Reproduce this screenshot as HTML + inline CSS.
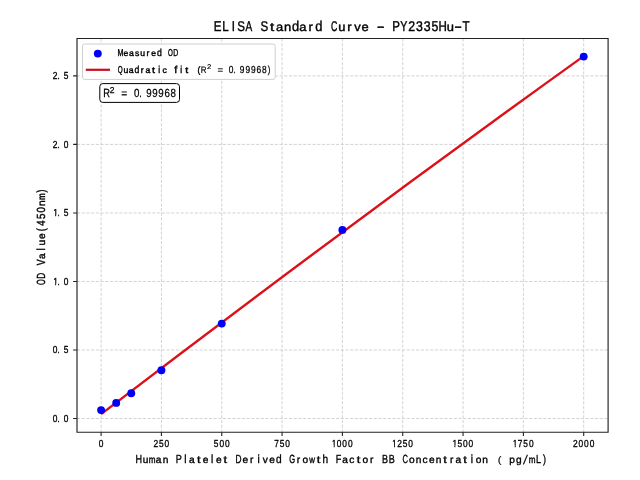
<!DOCTYPE html>
<html><head><meta charset="utf-8"><style>
html,body{margin:0;padding:0;background:#fff;width:640px;height:480px;overflow:hidden;font-family:"Liberation Sans",sans-serif}
svg{display:block;will-change:transform}
text{text-rendering:geometricPrecision}
</style></head><body>
<svg width="640" height="480" viewBox="0 0 640 480"><defs><style>text{vector-effect:non-scaling-stroke;font-family:'Liberation Sans',sans-serif}</style><clipPath id="c0"><rect x="-1.523" y="-7.700" width="4.571" height="6.210"/><rect x="0.266" y="-1.515" width="1.048" height="3.515"/></clipPath></defs>
<rect width="640" height="480" fill="#fff"/>
<path d="M101.10 38.50V432.20M161.42 38.50V432.20M221.75 38.50V432.20M282.07 38.50V432.20M342.40 38.50V432.20M402.73 38.50V432.20M463.05 38.50V432.20M523.38 38.50V432.20M583.70 38.50V432.20M77.00 418.50H608.10M77.00 349.98H608.10M77.00 281.46H608.10M77.00 212.94H608.10M77.00 144.42H608.10M77.00 75.90H608.10" stroke="#cecece" stroke-width="0.9" stroke-dasharray="3.1 1.61" fill="none"/>
<path d="M101.10 414.08Q342.40 229.40 583.70 56.13" stroke="#dc1018" stroke-width="2.4" fill="none"/>
<circle cx="101.10" cy="410.10" r="3.95" fill="#0000f5"/>
<circle cx="116.18" cy="402.90" r="3.95" fill="#0000f5"/>
<circle cx="131.26" cy="393.30" r="3.95" fill="#0000f5"/>
<circle cx="161.42" cy="370.20" r="3.95" fill="#0000f5"/>
<circle cx="221.75" cy="323.60" r="3.95" fill="#0000f5"/>
<circle cx="342.40" cy="229.90" r="3.95" fill="#0000f5"/>
<circle cx="583.70" cy="56.60" r="3.95" fill="#0000f5"/>
<path d="M77.0 38.5H608.1V432.2H77.0Z" stroke="#222" stroke-width="1.15" fill="none"/>
<path d="M101.10 432.20v3.9M161.42 432.20v3.9M221.75 432.20v3.9M282.07 432.20v3.9M342.40 432.20v3.9M402.73 432.20v3.9M463.05 432.20v3.9M523.38 432.20v3.9M583.70 432.20v3.9M77.00 418.50h-3.9M77.00 349.98h-3.9M77.00 281.46h-3.9M77.00 212.94h-3.9M77.00 144.42h-3.9M77.00 75.90h-3.9" stroke="#222" stroke-width="1.1" fill="none"/>
<g fill="#000" stroke="#000" stroke-width="0.32"><text transform="translate(101.10,447.00) scale(0.8239,1)" x="-2.83" font-size="10.175">0</text></g>
<g fill="#000" stroke="#000" stroke-width="0.32"><text transform="translate(155.83,447.00) scale(0.8239,1)" x="-2.83" font-size="10.175">2</text><text transform="translate(161.38,447.00) scale(0.8239,1)" x="-2.82" font-size="10.175">5</text><text transform="translate(166.93,447.00) scale(0.8239,1)" x="-2.83" font-size="10.175">0</text></g>
<g fill="#000" stroke="#000" stroke-width="0.32"><text transform="translate(216.19,447.00) scale(0.8239,1)" x="-2.82" font-size="10.175">5</text><text transform="translate(221.74,447.00) scale(0.8239,1)" x="-2.83" font-size="10.175">0</text><text transform="translate(227.29,447.00) scale(0.8239,1)" x="-2.83" font-size="10.175">0</text></g>
<g fill="#000" stroke="#000" stroke-width="0.32"><text transform="translate(276.48,447.00) scale(0.8239,1)" x="-2.83" font-size="10.175">7</text><text transform="translate(282.03,447.00) scale(0.8239,1)" x="-2.82" font-size="10.175">5</text><text transform="translate(287.58,447.00) scale(0.8239,1)" x="-2.83" font-size="10.175">0</text></g>
<g fill="#000" stroke="#000" stroke-width="0.32"><text transform="translate(333.58,447.00) scale(0.8239,1)" x="-2.22" font-size="10.175" clip-path="url(#c0)">1</text><text transform="translate(339.13,447.00) scale(0.8239,1)" x="-2.83" font-size="10.175">0</text><text transform="translate(344.68,447.00) scale(0.8239,1)" x="-2.83" font-size="10.175">0</text><text transform="translate(350.23,447.00) scale(0.8239,1)" x="-2.83" font-size="10.175">0</text></g>
<g fill="#000" stroke="#000" stroke-width="0.32"><text transform="translate(393.91,447.00) scale(0.8239,1)" x="-2.22" font-size="10.175" clip-path="url(#c0)">1</text><text transform="translate(399.46,447.00) scale(0.8239,1)" x="-2.83" font-size="10.175">2</text><text transform="translate(405.01,447.00) scale(0.8239,1)" x="-2.82" font-size="10.175">5</text><text transform="translate(410.56,447.00) scale(0.8239,1)" x="-2.83" font-size="10.175">0</text></g>
<g fill="#000" stroke="#000" stroke-width="0.32"><text transform="translate(454.23,447.00) scale(0.8239,1)" x="-2.22" font-size="10.175" clip-path="url(#c0)">1</text><text transform="translate(459.78,447.00) scale(0.8239,1)" x="-2.82" font-size="10.175">5</text><text transform="translate(465.33,447.00) scale(0.8239,1)" x="-2.83" font-size="10.175">0</text><text transform="translate(470.88,447.00) scale(0.8239,1)" x="-2.83" font-size="10.175">0</text></g>
<g fill="#000" stroke="#000" stroke-width="0.32"><text transform="translate(514.56,447.00) scale(0.8239,1)" x="-2.22" font-size="10.175" clip-path="url(#c0)">1</text><text transform="translate(520.11,447.00) scale(0.8239,1)" x="-2.83" font-size="10.175">7</text><text transform="translate(525.66,447.00) scale(0.8239,1)" x="-2.82" font-size="10.175">5</text><text transform="translate(531.21,447.00) scale(0.8239,1)" x="-2.83" font-size="10.175">0</text></g>
<g fill="#000" stroke="#000" stroke-width="0.32"><text transform="translate(575.33,447.00) scale(0.8239,1)" x="-2.83" font-size="10.175">2</text><text transform="translate(580.88,447.00) scale(0.8239,1)" x="-2.83" font-size="10.175">0</text><text transform="translate(586.43,447.00) scale(0.8239,1)" x="-2.83" font-size="10.175">0</text><text transform="translate(591.98,447.00) scale(0.8239,1)" x="-2.83" font-size="10.175">0</text></g>
<g fill="#000" stroke="#000" stroke-width="0.34"><text transform="translate(55.00,422.00) scale(0.8239,1)" x="-2.83" font-size="10.175">0</text><text transform="translate(58.55,422.00) scale(0.7700,1)" x="-1.41" font-size="10.175">.</text><text transform="translate(66.10,422.00) scale(0.8239,1)" x="-2.83" font-size="10.175">0</text></g>
<g fill="#000" stroke="#000" stroke-width="0.34"><text transform="translate(55.01,353.48) scale(0.8239,1)" x="-2.83" font-size="10.175">0</text><text transform="translate(58.56,353.48) scale(0.7700,1)" x="-1.41" font-size="10.175">.</text><text transform="translate(66.11,353.48) scale(0.8239,1)" x="-2.82" font-size="10.175">5</text></g>
<g fill="#000" stroke="#000" stroke-width="0.34"><text transform="translate(55.00,284.96) scale(0.8239,1)" x="-2.22" font-size="10.175" clip-path="url(#c0)">1</text><text transform="translate(58.55,284.96) scale(0.7700,1)" x="-1.41" font-size="10.175">.</text><text transform="translate(66.10,284.96) scale(0.8239,1)" x="-2.83" font-size="10.175">0</text></g>
<g fill="#000" stroke="#000" stroke-width="0.34"><text transform="translate(55.01,216.44) scale(0.8239,1)" x="-2.22" font-size="10.175" clip-path="url(#c0)">1</text><text transform="translate(58.56,216.44) scale(0.7700,1)" x="-1.41" font-size="10.175">.</text><text transform="translate(66.11,216.44) scale(0.8239,1)" x="-2.82" font-size="10.175">5</text></g>
<g fill="#000" stroke="#000" stroke-width="0.34"><text transform="translate(55.00,147.92) scale(0.8239,1)" x="-2.83" font-size="10.175">2</text><text transform="translate(58.55,147.92) scale(0.7700,1)" x="-1.41" font-size="10.175">.</text><text transform="translate(66.10,147.92) scale(0.8239,1)" x="-2.83" font-size="10.175">0</text></g>
<g fill="#000" stroke="#000" stroke-width="0.34"><text transform="translate(55.01,79.40) scale(0.8239,1)" x="-2.83" font-size="10.175">2</text><text transform="translate(58.56,79.40) scale(0.7700,1)" x="-1.41" font-size="10.175">.</text><text transform="translate(66.11,79.40) scale(0.8239,1)" x="-2.82" font-size="10.175">5</text></g>
<g fill="#000" stroke="#000" stroke-width="0.4"><text transform="translate(217.93,31.30) scale(0.8200,1)" x="-4.98" font-size="14.099">E</text><text transform="translate(225.68,31.30) scale(0.8200,1)" x="-4.26" font-size="14.099">L</text><text transform="translate(233.43,31.30) scale(0.8200,1)" x="-1.96" font-size="14.099">I</text><text transform="translate(241.18,31.30) scale(0.8200,1)" x="-4.70" font-size="14.099">S</text><text transform="translate(248.93,31.30) scale(0.7129,1)" x="-4.70" font-size="14.099">A</text><text transform="translate(264.43,31.30) scale(0.8200,1)" x="-4.70" font-size="14.099">S</text><text transform="translate(272.18,31.30) scale(1.2514,1)" x="-1.73" font-size="12.125">t</text><text transform="translate(279.93,31.30) scale(1.0679,1)" x="-3.63" font-size="12.125">a</text><text transform="translate(287.68,31.30) scale(1.0679,1)" x="-3.38" font-size="12.125">n</text><text transform="translate(295.43,31.30) scale(0.9184,1)" x="-3.76" font-size="14.099">d</text><text transform="translate(303.18,31.30) scale(1.0679,1)" x="-3.63" font-size="12.125">a</text><text transform="translate(310.93,31.30) scale(1.0679,1)" x="-2.32" font-size="12.125">r</text><text transform="translate(318.68,31.30) scale(0.9184,1)" x="-3.76" font-size="14.099">d</text><text transform="translate(334.18,31.30) scale(0.6249,1)" x="-5.18" font-size="14.099">C</text><text transform="translate(341.93,31.30) scale(1.0679,1)" x="-3.36" font-size="12.125">u</text><text transform="translate(349.68,31.30) scale(1.0679,1)" x="-2.32" font-size="12.125">r</text><text transform="translate(357.43,31.30) scale(1.0679,1)" x="-3.03" font-size="12.125">v</text><text transform="translate(365.18,31.30) scale(1.0679,1)" x="-3.36" font-size="12.125">e</text><text transform="translate(380.68,31.30) scale(1.6661,1)" x="-2.35" font-size="14.099">-</text><text transform="translate(396.18,31.30) scale(0.8200,1)" x="-4.91" font-size="14.099">P</text><text transform="translate(403.93,31.30) scale(0.7587,1)" x="-4.70" font-size="14.099">Y</text><text transform="translate(411.68,31.30) scale(0.8774,1)" x="-3.92" font-size="14.099">2</text><text transform="translate(419.43,31.30) scale(0.8774,1)" x="-3.88" font-size="14.099">3</text><text transform="translate(427.18,31.30) scale(0.8774,1)" x="-3.88" font-size="14.099">3</text><text transform="translate(434.93,31.30) scale(0.8774,1)" x="-3.91" font-size="14.099">5</text><text transform="translate(442.68,31.30) scale(0.8200,1)" x="-5.09" font-size="14.099">H</text><text transform="translate(450.43,31.30) scale(1.0679,1)" x="-3.36" font-size="12.125">u</text><text transform="translate(458.18,31.30) scale(1.6661,1)" x="-2.35" font-size="14.099">-</text><text transform="translate(465.93,31.30) scale(0.8200,1)" x="-4.30" font-size="14.099">T</text></g>
<g fill="#000" stroke="#000" stroke-width="0.35"><text transform="translate(138.83,463.00) scale(0.7700,1)" x="-4.25" font-size="11.773">H</text><text transform="translate(145.49,463.00) scale(1.0028,1)" x="-2.81" font-size="10.125">u</text><text transform="translate(152.15,463.00) scale(0.8073,1)" x="-4.22" font-size="10.125">m</text><text transform="translate(158.81,463.00) scale(1.0028,1)" x="-3.03" font-size="10.125">a</text><text transform="translate(165.47,463.00) scale(1.0028,1)" x="-2.82" font-size="10.125">n</text><text transform="translate(178.79,463.00) scale(0.7700,1)" x="-4.10" font-size="11.773">P</text><text transform="translate(185.45,463.00) scale(0.8624,1)" x="-1.31" font-size="11.773">l</text><text transform="translate(192.11,463.00) scale(1.0028,1)" x="-3.03" font-size="10.125">a</text><text transform="translate(198.77,463.00) scale(1.2879,1)" x="-1.45" font-size="10.125">t</text><text transform="translate(205.43,463.00) scale(1.0028,1)" x="-2.81" font-size="10.125">e</text><text transform="translate(212.09,463.00) scale(0.8624,1)" x="-1.31" font-size="11.773">l</text><text transform="translate(218.75,463.00) scale(1.0028,1)" x="-2.81" font-size="10.125">e</text><text transform="translate(225.41,463.00) scale(1.2879,1)" x="-1.45" font-size="10.125">t</text><text transform="translate(238.73,463.00) scale(0.7068,1)" x="-4.45" font-size="11.773">D</text><text transform="translate(245.39,463.00) scale(1.0028,1)" x="-2.81" font-size="10.125">e</text><text transform="translate(252.05,463.00) scale(1.0028,1)" x="-1.94" font-size="10.125">r</text><text transform="translate(258.71,463.00) scale(0.8624,1)" x="-1.30" font-size="11.773">i</text><text transform="translate(265.37,463.00) scale(1.0028,1)" x="-2.53" font-size="10.125">v</text><text transform="translate(272.03,463.00) scale(1.0028,1)" x="-2.81" font-size="10.125">e</text><text transform="translate(278.69,463.00) scale(0.8624,1)" x="-3.14" font-size="11.773">d</text><text transform="translate(292.01,463.00) scale(0.6412,1)" x="-4.44" font-size="11.773">G</text><text transform="translate(298.67,463.00) scale(1.0028,1)" x="-1.94" font-size="10.125">r</text><text transform="translate(305.33,463.00) scale(1.0028,1)" x="-2.82" font-size="10.125">o</text><text transform="translate(311.99,463.00) scale(0.7791,1)" x="-3.66" font-size="10.125">w</text><text transform="translate(318.65,463.00) scale(1.2879,1)" x="-1.45" font-size="10.125">t</text><text transform="translate(325.31,463.00) scale(0.8624,1)" x="-3.30" font-size="11.773">h</text><text transform="translate(338.63,463.00) scale(0.7700,1)" x="-3.84" font-size="11.773">F</text><text transform="translate(345.29,463.00) scale(1.0028,1)" x="-3.03" font-size="10.125">a</text><text transform="translate(351.95,463.00) scale(1.0028,1)" x="-2.61" font-size="10.125">c</text><text transform="translate(358.61,463.00) scale(1.2879,1)" x="-1.45" font-size="10.125">t</text><text transform="translate(365.27,463.00) scale(1.0028,1)" x="-2.82" font-size="10.125">o</text><text transform="translate(371.93,463.00) scale(1.0028,1)" x="-1.94" font-size="10.125">r</text><text transform="translate(385.25,463.00) scale(0.7700,1)" x="-4.10" font-size="11.773">B</text><text transform="translate(391.91,463.00) scale(0.7700,1)" x="-4.10" font-size="11.773">B</text><text transform="translate(405.23,463.00) scale(0.6431,1)" x="-4.33" font-size="11.773">C</text><text transform="translate(411.89,463.00) scale(1.0028,1)" x="-2.82" font-size="10.125">o</text><text transform="translate(418.55,463.00) scale(1.0028,1)" x="-2.82" font-size="10.125">n</text><text transform="translate(425.21,463.00) scale(1.0028,1)" x="-2.61" font-size="10.125">c</text><text transform="translate(431.87,463.00) scale(1.0028,1)" x="-2.81" font-size="10.125">e</text><text transform="translate(438.53,463.00) scale(1.0028,1)" x="-2.82" font-size="10.125">n</text><text transform="translate(445.19,463.00) scale(1.2879,1)" x="-1.45" font-size="10.125">t</text><text transform="translate(451.85,463.00) scale(1.0028,1)" x="-1.94" font-size="10.125">r</text><text transform="translate(458.51,463.00) scale(1.0028,1)" x="-3.03" font-size="10.125">a</text><text transform="translate(465.17,463.00) scale(1.2879,1)" x="-1.45" font-size="10.125">t</text><text transform="translate(471.83,463.00) scale(0.8624,1)" x="-1.30" font-size="11.773">i</text><text transform="translate(478.49,463.00) scale(1.0028,1)" x="-2.82" font-size="10.125">o</text><text transform="translate(485.15,463.00) scale(1.0028,1)" x="-2.82" font-size="10.125">n</text></g>
<text transform="translate(497.70,463.00) scale(1.1713,1)" font-size="9.660" fill="#000" stroke="#000" stroke-width="0.1">(</text>
<g fill="#000" stroke="#000" stroke-width="0.35"><text transform="translate(512.08,463.00) scale(1.0028,1)" x="-2.93" font-size="10.125">p</text><text transform="translate(518.74,463.00) scale(1.0028,1)" x="-2.70" font-size="10.125">g</text></g>
<text transform="translate(522.9,463.5) skewX(-8)" font-size="12.8" fill="#000" stroke="#000" stroke-width="0.15">/</text>
<g fill="#000" stroke="#000" stroke-width="0.35"><text transform="translate(532.16,463.00) scale(0.8073,1)" x="-4.22" font-size="10.125">m</text><text transform="translate(538.82,463.00) scale(0.7700,1)" x="-3.56" font-size="11.773">L</text><text transform="translate(544.29,463.00) scale(0.7700,1)" x="-1.63" font-size="11.773">)</text></g>
<g transform="translate(45.4,284.7) rotate(-90)" fill="#000" stroke="#000" stroke-width="0.4"><text transform="translate(2.50,0.00) scale(0.6222,1)" x="-4.58" font-size="11.773">O</text><text transform="translate(9.08,0.00) scale(0.6983,1)" x="-4.45" font-size="11.773">D</text><text transform="translate(22.24,0.00) scale(0.7302,1)" x="-3.93" font-size="11.773">V</text><text transform="translate(28.82,0.00) scale(1.0028,1)" x="-3.03" font-size="10.125">a</text><text transform="translate(35.40,0.00) scale(0.8624,1)" x="-1.31" font-size="11.773">l</text><text transform="translate(41.98,0.00) scale(1.0028,1)" x="-2.81" font-size="10.125">u</text><text transform="translate(48.56,0.00) scale(1.0028,1)" x="-2.81" font-size="10.125">e</text><text transform="translate(55.14,0.00) scale(0.7700,1)" x="-2.29" font-size="11.773">(</text><text transform="translate(61.72,0.00) scale(0.8239,1)" x="-3.24" font-size="11.773">4</text><text transform="translate(68.30,0.00) scale(0.8239,1)" x="-3.26" font-size="11.773">5</text><text transform="translate(74.88,0.00) scale(0.8239,1)" x="-3.27" font-size="11.773">0</text><text transform="translate(81.46,0.00) scale(1.0028,1)" x="-2.82" font-size="10.125">n</text><text transform="translate(88.04,0.00) scale(0.7976,1)" x="-4.22" font-size="10.125">m</text><text transform="translate(93.44,0.00) scale(0.7700,1)" x="-1.63" font-size="11.773">)</text></g>
<rect x="82.5" y="44.0" width="192.7" height="35.4" rx="2.2" fill="#fff" fill-opacity="0.93" stroke="#cfcfcf" stroke-width="1"/>
<circle cx="97.8" cy="53.6" r="3.95" fill="#0000f5"/>
<path d="M85.8 69.8H110" stroke="#c8101c" stroke-width="2.2"/>
<g fill="#000" stroke="#000" stroke-width="0.4"><text transform="translate(120.39,55.70) scale(0.7114,1)" x="-4.18" font-size="10.029">M</text><text transform="translate(125.94,55.70) scale(1.0028,1)" x="-2.39" font-size="8.625">e</text><text transform="translate(131.49,55.70) scale(1.0028,1)" x="-2.58" font-size="8.625">a</text><text transform="translate(137.04,55.70) scale(1.0028,1)" x="-2.12" font-size="8.625">s</text><text transform="translate(142.59,55.70) scale(1.0028,1)" x="-2.39" font-size="8.625">u</text><text transform="translate(148.14,55.70) scale(1.0028,1)" x="-1.65" font-size="8.625">r</text><text transform="translate(153.69,55.70) scale(1.0028,1)" x="-2.39" font-size="8.625">e</text><text transform="translate(159.24,55.70) scale(0.8624,1)" x="-2.68" font-size="10.029">d</text><text transform="translate(170.34,55.70) scale(0.6161,1)" x="-3.90" font-size="10.029">O</text><text transform="translate(175.89,55.70) scale(0.6914,1)" x="-3.79" font-size="10.029">D</text></g>
<g fill="#000" stroke="#000" stroke-width="0.4"><text transform="translate(120.26,72.70) scale(0.6323,1)" x="-3.90" font-size="10.029">Q</text><text transform="translate(125.81,72.70) scale(1.0028,1)" x="-2.39" font-size="8.625">u</text><text transform="translate(131.36,72.70) scale(1.0028,1)" x="-2.58" font-size="8.625">a</text><text transform="translate(136.91,72.70) scale(0.8624,1)" x="-2.68" font-size="10.029">d</text><text transform="translate(142.46,72.70) scale(1.0028,1)" x="-1.65" font-size="8.625">r</text><text transform="translate(148.01,72.70) scale(1.0028,1)" x="-2.58" font-size="8.625">a</text><text transform="translate(153.56,72.70) scale(1.2599,1)" x="-1.23" font-size="8.625">t</text><text transform="translate(159.11,72.70) scale(0.8624,1)" x="-1.11" font-size="10.029">i</text><text transform="translate(164.66,72.70) scale(1.0028,1)" x="-2.23" font-size="8.625">c</text><text transform="translate(175.76,72.70) scale(1.0853,1)" x="-1.47" font-size="10.029">f</text><text transform="translate(181.31,72.70) scale(0.8624,1)" x="-1.11" font-size="10.029">i</text><text transform="translate(186.86,72.70) scale(1.2599,1)" x="-1.23" font-size="8.625">t</text></g>
<text transform="translate(197.39,72.59) scale(0.8989,1)" font-size="9.231" fill="#000" stroke="#000" stroke-width="0.4">(</text>
<text transform="translate(200.85,73.10) scale(0.8378,1)" font-size="9.448" fill="#000" stroke="#000" stroke-width="0.2">R</text>
<text transform="translate(207.01,69.20) scale(1.1176,1)" font-size="6.874" fill="#000" stroke="#000" stroke-width="0.2">2</text>
<text transform="translate(217.43,73.26) scale(1.0392,1)" font-size="9.309" fill="#000" stroke="#000" stroke-width="0.15">=</text>
<g fill="#000" stroke="#000" stroke-width="0.25"><text transform="translate(231.10,73.10) scale(0.8239,1)" x="-2.83" font-size="10.175">0</text><text transform="translate(234.66,73.10) scale(0.7700,1)" x="-1.41" font-size="10.175">.</text><text transform="translate(242.20,73.10) scale(0.8239,1)" x="-2.83" font-size="10.175">9</text><text transform="translate(247.75,73.10) scale(0.8239,1)" x="-2.83" font-size="10.175">9</text><text transform="translate(253.30,73.10) scale(0.8239,1)" x="-2.83" font-size="10.175">9</text><text transform="translate(258.85,73.10) scale(0.8239,1)" x="-2.86" font-size="10.175">6</text><text transform="translate(264.40,73.10) scale(0.8239,1)" x="-2.83" font-size="10.175">8</text><text transform="translate(268.95,73.10) scale(0.7700,1)" x="-1.41" font-size="10.175">)</text></g>
<rect x="99.8" y="83.6" width="79.7" height="18.8" rx="3" fill="#fff" stroke="#000" stroke-width="1"/>
<text transform="translate(103.14,96.70) scale(0.7772,1)" font-size="11.919" fill="#000" stroke="#000" stroke-width="0.3">R</text>
<text transform="translate(109.87,92.50) scale(0.9962,1)" font-size="8.593" fill="#000" stroke="#000" stroke-width="0.25">2</text>
<text transform="translate(121.30,96.68) scale(0.9213,1)" font-size="11.171" fill="#000" stroke="#000" stroke-width="0.15">=</text>
<g fill="#000" stroke="#000" stroke-width="0.25"><text transform="translate(136.62,96.90) scale(0.8239,1)" x="-3.27" font-size="11.773">0</text><text transform="translate(140.53,96.90) scale(0.7700,1)" x="-1.64" font-size="11.773">.</text><text transform="translate(148.84,96.90) scale(0.8239,1)" x="-3.27" font-size="11.773">9</text><text transform="translate(154.95,96.90) scale(0.8239,1)" x="-3.27" font-size="11.773">9</text><text transform="translate(161.06,96.90) scale(0.8239,1)" x="-3.27" font-size="11.773">9</text><text transform="translate(167.17,96.90) scale(0.8239,1)" x="-3.31" font-size="11.773">6</text><text transform="translate(173.28,96.90) scale(0.8239,1)" x="-3.27" font-size="11.773">8</text></g></svg>
</body></html>
